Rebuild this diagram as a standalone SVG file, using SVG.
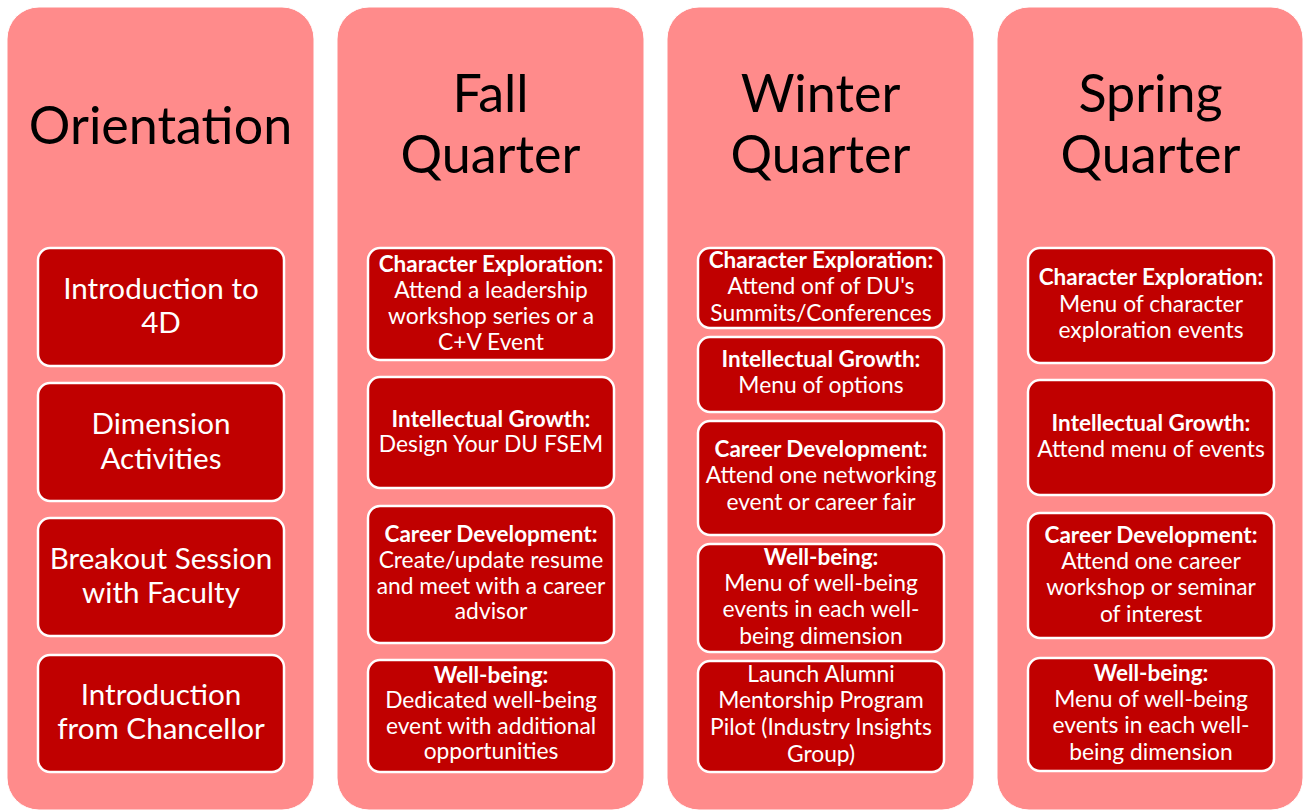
<svg xmlns="http://www.w3.org/2000/svg" width="1304" height="811" viewBox="0 0 1304 811">
<style>
.col{fill:#FF8B8B;stroke:#FFFFFF;stroke-width:1}
.box{fill:#C00000;stroke:#FFFFFF;stroke-width:2.5}
.ttl{font-family:Lato,"Liberation Sans",sans-serif;font-size:52px;fill:#000;text-anchor:middle}
.big{font-family:Lato,"Liberation Sans",sans-serif;font-size:29.6px;fill:#fff;text-anchor:middle}
.t{font-family:Lato,"Liberation Sans",sans-serif;font-size:22.8px;fill:#fff;text-anchor:middle}
.b{font-weight:bold;font-size:22.5px}
</style>
<rect width="1304" height="811" fill="#FFFFFF"/>
<g id="connectors"></g>

<g id="col-orientation">
<rect class="col" x="7" y="7" width="307" height="803" rx="32"/>
<text class="ttl" x="160.5" y="144">Orientation</text>
</g>
<g id="o1"><rect class="box" x="38" y="248" width="246" height="118" rx="12"/>
<text class="big" x="161" y="299">Introduction to</text><text class="big" x="161" y="333">4D</text></g>
<g id="o2"><rect class="box" x="38" y="383" width="246" height="118" rx="12"/>
<text class="big" x="161" y="434">Dimension</text><text class="big" x="161" y="469">Activities</text></g>
<g id="o3"><rect class="box" x="38" y="518" width="246" height="118" rx="12"/>
<text class="big" x="161" y="569">Breakout Session</text><text class="big" x="161" y="603">with Faculty</text></g>
<g id="o4"><rect class="box" x="38" y="655" width="246" height="117" rx="12"/>
<text class="big" x="161" y="705">Introduction</text><text class="big" x="161" y="739">from Chancellor</text></g>

<g id="col-fall">
<rect class="col" x="337" y="7" width="307" height="803" rx="32"/>
<text class="ttl" x="490.5" y="112">Fall</text>
<text class="ttl" x="490.5" y="173">Quarter</text>
</g>
<g id="f1"><rect class="box" x="368" y="248" width="246" height="112" rx="12"/>
<text class="t b" x="491" y="272">Character Exploration:</text>
<text class="t" x="491" y="298">Attend a leadership</text>
<text class="t" x="491" y="324">workshop series or a</text>
<text class="t" x="491" y="350">C+V Event</text></g>
<g id="f2"><rect class="box" x="368" y="377" width="246" height="111" rx="12"/>
<text class="t b" x="491" y="427">Intellectual Growth:</text>
<text class="t" x="491" y="452">Design Your DU FSEM</text></g>
<g id="f3"><rect class="box" x="368" y="506" width="246" height="137" rx="12"/>
<text class="t b" x="491" y="542">Career Development:</text>
<text class="t" x="491" y="568">Create/update resume</text>
<text class="t" x="491" y="594">and meet with a career</text>
<text class="t" x="491" y="619">advisor</text></g>
<g id="f4"><rect class="box" x="368" y="660" width="246" height="112" rx="12"/>
<text class="t b" x="491" y="683">Well-being:</text>
<text class="t" x="491" y="708">Dedicated well-being</text>
<text class="t" x="491" y="734">event with additional</text>
<text class="t" x="491" y="759">opportunities</text></g>

<g id="col-winter">
<rect class="col" x="667" y="7" width="307" height="803" rx="32"/>
<text class="ttl" x="820.5" y="112">Winter</text>
<text class="ttl" x="820.5" y="173">Quarter</text>
</g>
<g id="w1"><rect class="box" x="698" y="248" width="246" height="80" rx="12"/>
<text class="t b" x="821" y="268">Character Exploration:</text>
<text class="t" x="821" y="294">Attend onf of DU's</text>
<text class="t" x="821" y="321">Summits/Conferences</text></g>
<g id="w2"><rect class="box" x="698" y="337" width="246" height="75" rx="12"/>
<text class="t b" x="821" y="367">Intellectual Growth:</text>
<text class="t" x="821" y="393">Menu of options</text></g>
<g id="w3"><rect class="box" x="698" y="421" width="246" height="114" rx="12"/>
<text class="t b" x="821" y="457">Career Development:</text>
<text class="t" x="821" y="483">Attend one networking</text>
<text class="t" x="821" y="510">event or career fair</text></g>
<g id="w4"><rect class="box" x="698" y="544" width="246" height="108" rx="12"/>
<text class="t b" x="821" y="565">Well-being:</text>
<text class="t" x="821" y="591">Menu of well-being</text>
<text class="t" x="821" y="617">events in each well-</text>
<text class="t" x="821" y="644">being dimension</text></g>
<g id="w5"><rect class="box" x="698" y="661" width="246" height="111" rx="12"/>
<text class="t" x="821" y="682">Launch Alumni</text>
<text class="t" x="821" y="708">Mentorship Program</text>
<text class="t" x="821" y="735">Pilot (Industry Insights</text>
<text class="t" x="821" y="762">Group)</text></g>

<g id="col-spring">
<rect class="col" x="997" y="7" width="306" height="803" rx="32"/>
<text class="ttl" x="1150.5" y="112">Spring</text>
<text class="ttl" x="1150.5" y="173">Quarter</text>
</g>
<g id="s1"><rect class="box" x="1028" y="248" width="246" height="115" rx="12"/>
<text class="t b" x="1151" y="285">Character Exploration:</text>
<text class="t" x="1151" y="312">Menu of character</text>
<text class="t" x="1151" y="338">exploration events</text></g>
<g id="s2"><rect class="box" x="1028" y="380" width="246" height="115" rx="12"/>
<text class="t b" x="1151" y="431">Intellectual Growth:</text>
<text class="t" x="1151" y="457">Attend menu of events</text></g>
<g id="s3"><rect class="box" x="1028" y="513" width="246" height="125" rx="12"/>
<text class="t b" x="1151" y="543">Career Development:</text>
<text class="t" x="1151" y="569">Attend one career</text>
<text class="t" x="1151" y="595">workshop or seminar</text>
<text class="t" x="1151" y="622">of interest</text></g>
<g id="s4"><rect class="box" x="1028" y="658" width="246" height="113" rx="12"/>
<text class="t b" x="1151" y="681">Well-being:</text>
<text class="t" x="1151" y="707">Menu of well-being</text>
<text class="t" x="1151" y="733">events in each well-</text>
<text class="t" x="1151" y="760">being dimension</text></g>
</svg>
